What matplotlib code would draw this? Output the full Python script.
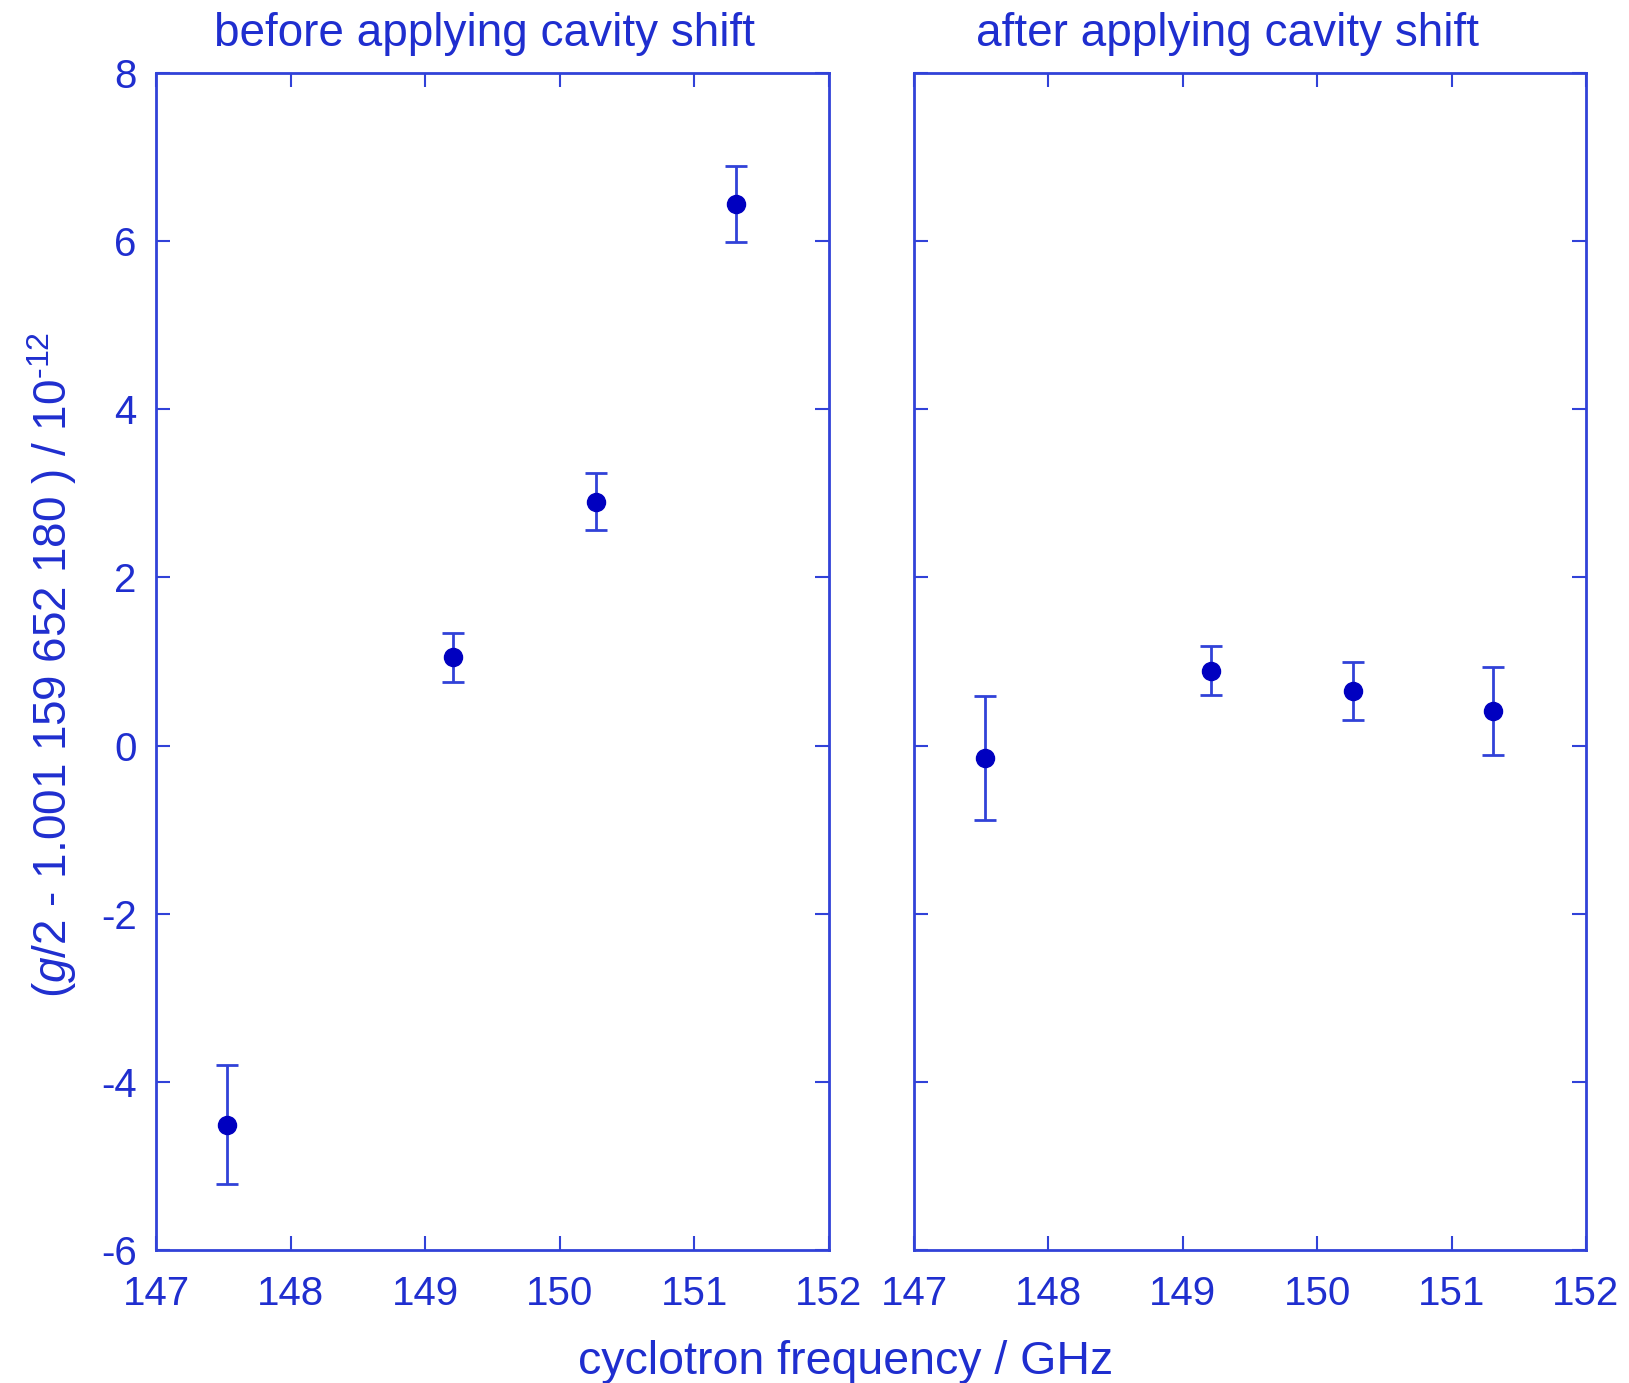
import matplotlib
matplotlib.use("Agg")
import matplotlib.pyplot as plt

plt.rcParams['font.family'] = ['Liberation Sans', 'DejaVu Sans']
plt.rcParams['mathtext.fontset'] = 'custom'
plt.rcParams['mathtext.rm'] = 'Liberation Sans'
plt.rcParams['mathtext.it'] = 'Liberation Sans:italic'

# cyclotron frequencies (GHz) and g/2 offsets (units of 1e-12)
freq = [147.525, 149.21, 150.27, 151.31]
before_vals = [-4.51, 1.05, 2.90, 6.44]
before_errs = [0.71, 0.29, 0.34, 0.45]
after_vals = [-0.15, 0.89, 0.65, 0.41]
after_errs = [0.74, 0.29, 0.34, 0.52]

titles = ["before applying cavity shift", "after applying cavity shift"]
x_ticks = [147, 148, 149, 150, 151, 152]
y_ticks = [-6, -4, -2, 0, 2, 4, 6, 8]

text_c = "#1f2ecf"
line_c = "#3142d8"
mark_c = "#0000c0"

fig = plt.figure(figsize=(16.29, 13.83), dpi=100)
W, H = 1629, 1383
ax1 = fig.add_axes([156 / W, 1 - 1250 / H, 673 / W, (1250 - 73) / H])
ax2 = fig.add_axes([914 / W, 1 - 1250 / H, 672 / W, (1250 - 73) / H])

title_x = [485, 1228]
for ax, vals, errs, title, tx in [(ax1, before_vals, before_errs, titles[0], title_x[0]),
                                  (ax2, after_vals, after_errs, titles[1], title_x[1])]:
    ax.errorbar(freq, vals, yerr=errs, fmt='o', color=mark_c, ms=13,
                ecolor=line_c, elinewidth=2, capsize=8, capthick=2)
    ax.set_xlim(147, 152)
    ax.set_ylim(-6, 8)
    ax.set_xticks(x_ticks)
    ax.set_yticks(y_ticks)
    ax.tick_params(direction='in', length=10, width=1.5, colors=line_c,
                   labelcolor=text_c, labelsize=29, top=True, right=True)
    ax.tick_params(axis='x', pad=18)
    ax.tick_params(axis='y', pad=14)
    for s in ax.spines.values():
        s.set_color(line_c)
        s.set_linewidth(2)
    fig.text(tx / W, 1 - 34 / H, title, color=text_c, fontsize=33,
             ha='center', va='center')

ax2.set_yticklabels([])
ax1.set_yticklabels([str(v) for v in y_ticks])

fig.text(52 / W, 1 - 665 / H,
         r"($\it{g}$/2 - 1.001 159 652 180 ) / 10$^{\text{-12}}$",
         color=text_c, fontsize=33, rotation=90, ha='center', va='center')
fig.text(846 / W, 1 - 1362 / H, "cyclotron frequency / GHz", color=text_c,
         fontsize=33.5, ha='center', va='center')

fig.savefig("out.png", dpi=100)
